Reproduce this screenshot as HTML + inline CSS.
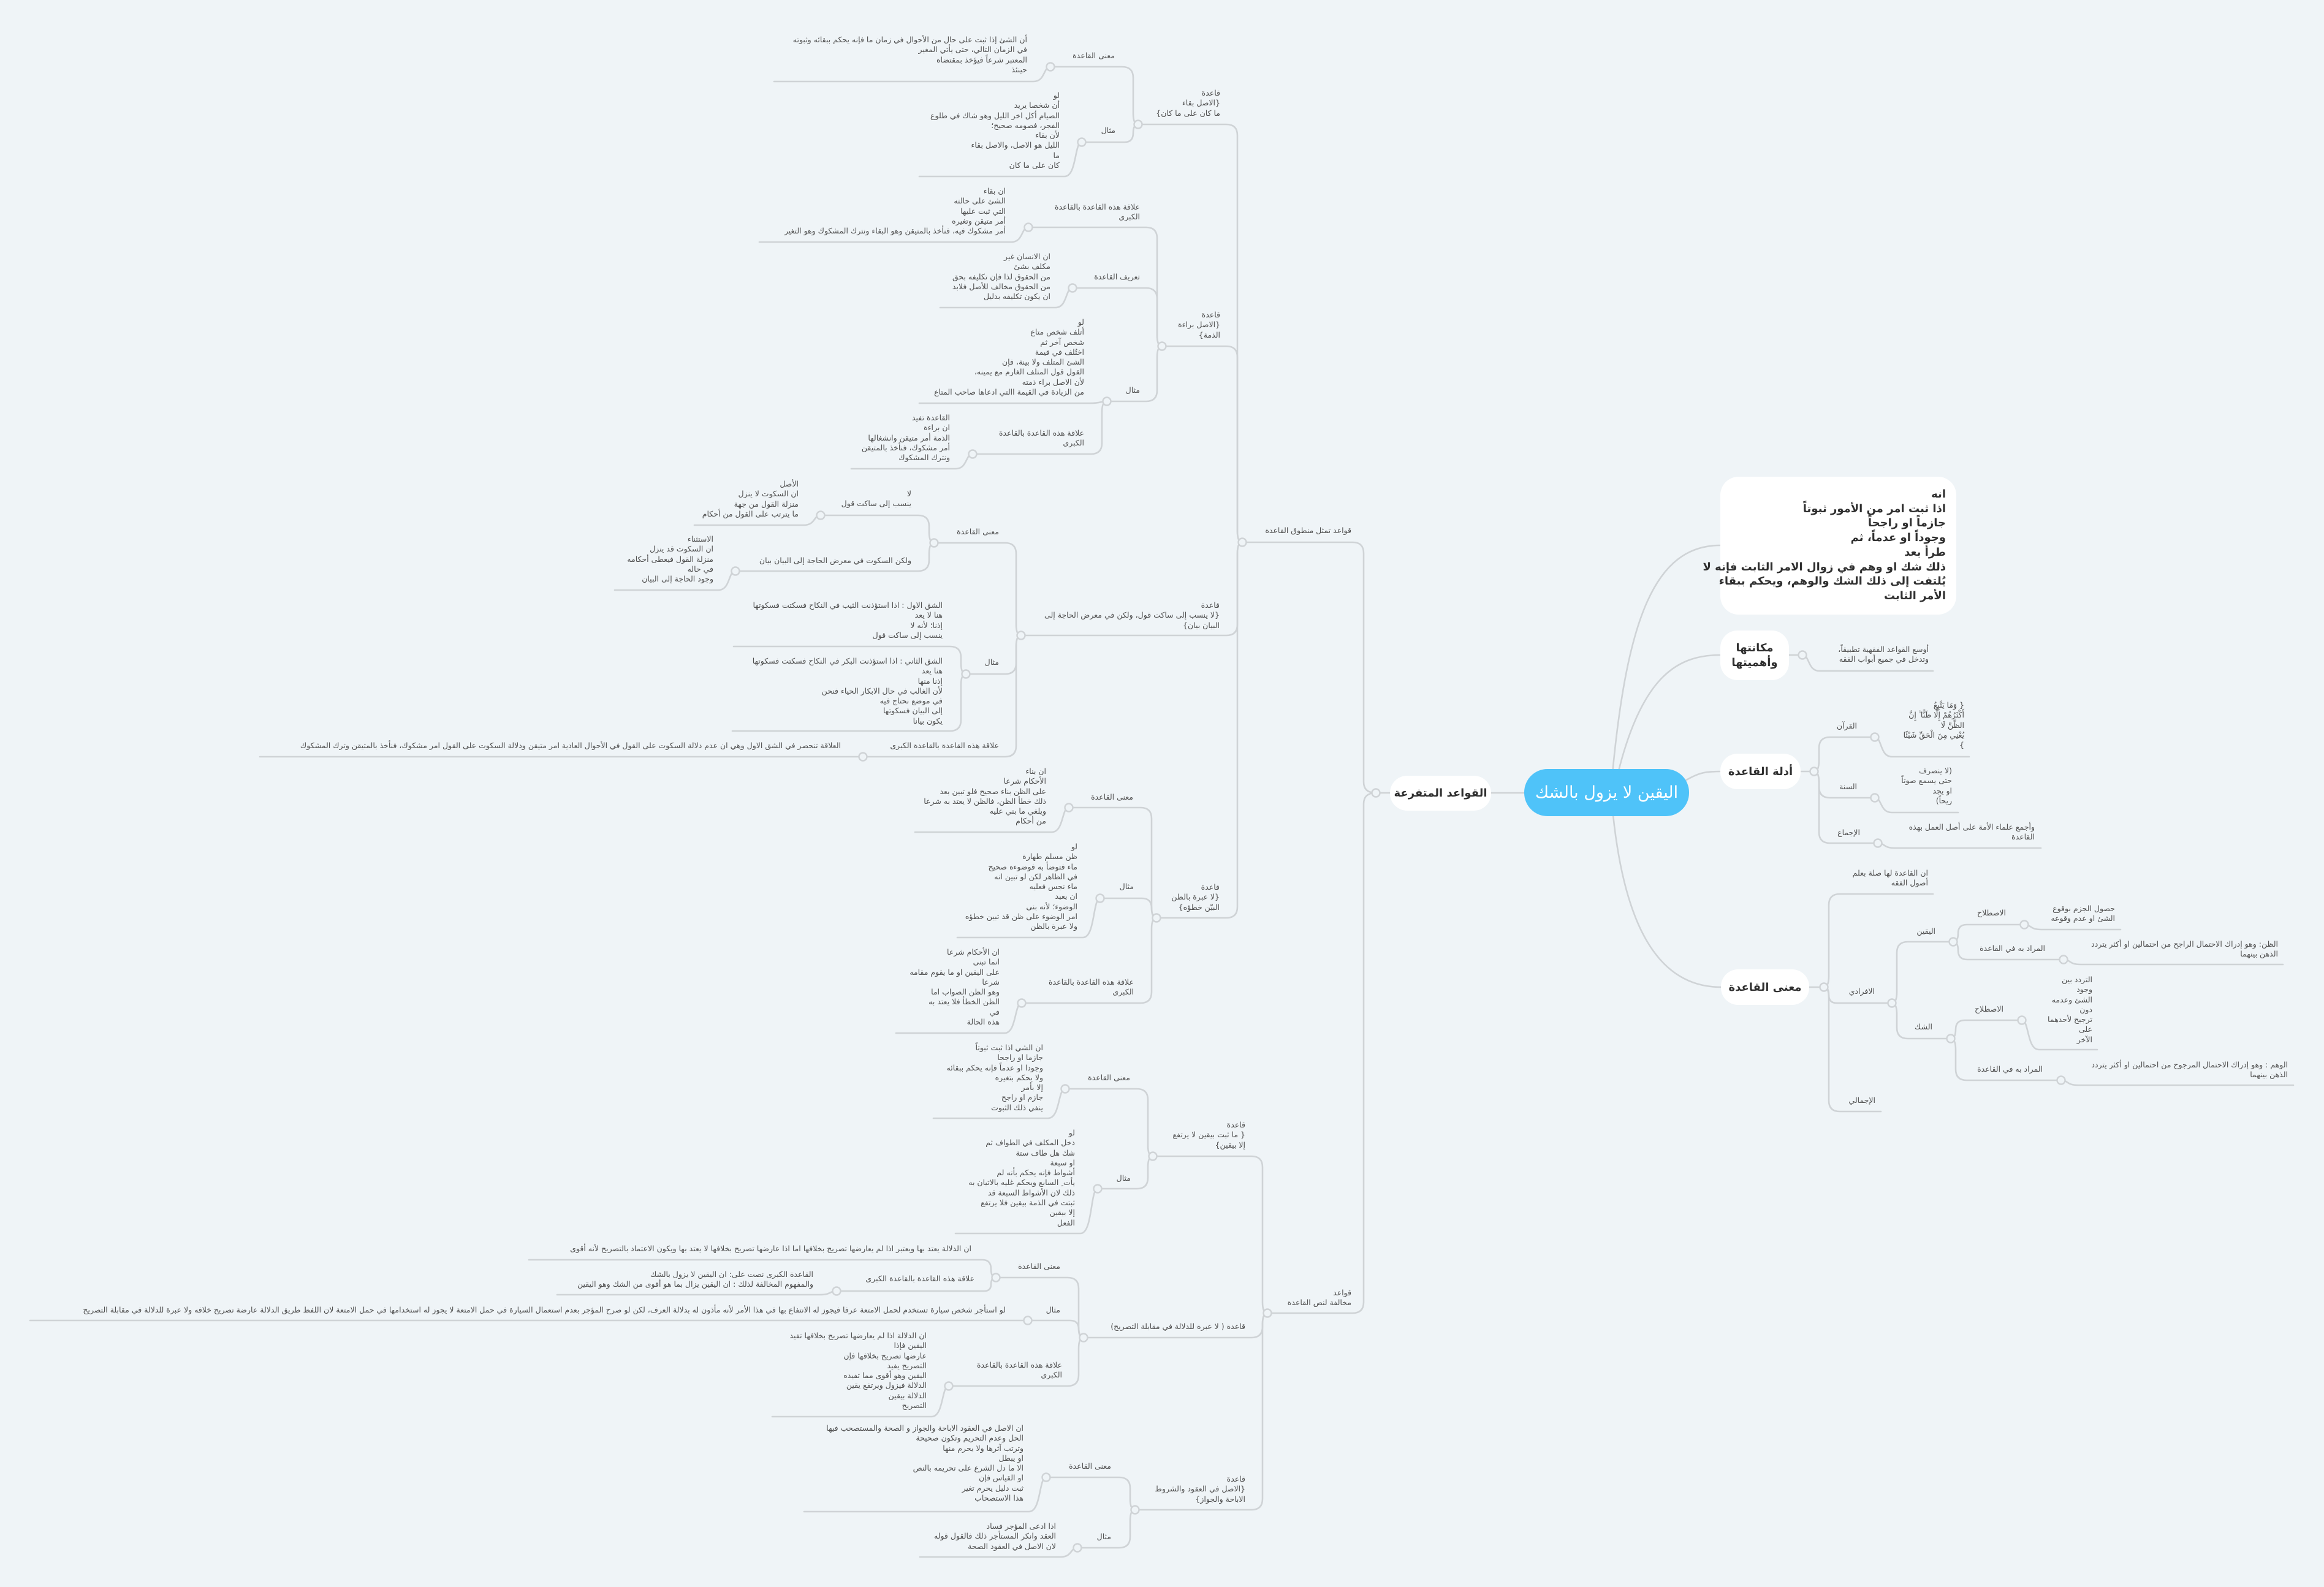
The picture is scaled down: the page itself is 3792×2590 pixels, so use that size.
<!DOCTYPE html>
<html><head><meta charset="utf-8">
<style>
html,body{margin:0;padding:0}
body{width:3792px;height:2590px;background:#eff4f7;position:relative;overflow:hidden;font-family:"DejaVu Sans","Noto Sans CJK SC",sans-serif}
.t{position:absolute;font-size:12.5px;line-height:16.3px;color:#505050;direction:rtl;text-align:right;white-space:nowrap}
.n{position:absolute;background:#fff;border-radius:28px;display:flex;align-items:center;justify-content:center;color:#2f2f2f;font-weight:bold;direction:rtl;text-align:center}
svg{position:absolute;left:0;top:0}
</style></head><body>
<svg width="3792" height="2590" viewBox="0 0 3792 2590">
<g fill="none" stroke="#cfd3d6" stroke-width="2.6" stroke-linecap="round">
<path d="M2631,1262 C2655,1010 2700,890 2807,890"/>
<path d="M2640,1262 C2680,1100 2740,1069 2807,1069"/>
<path d="M2748,1275 C2770,1262 2780,1259 2807,1259"/>
<path d="M2632,1330 C2650,1500 2700,1611 2808,1611"/>
<path d="M2487,1294 L2433,1294"/>
<path d="M2268,1294 L2252,1294"/>
<path d="M2245,1294 Q2225,1294 2225,1276 L2225,903 Q2225,885 2207,885 L2027,885"/>
<path d="M2245,1294 Q2225,1294 2225,1312 L2225,2125 Q2225,2143 2207,2143 L2068,2143"/>
<path d="M2027,885 Q2019,885 2019,867 L2019,221 Q2019,203 2001,203 L1857,203"/>
<path d="M2027,885 Q2019,885 2019,867 L2019,583 Q2019,565 2001,565 L1896,565"/>
<path d="M2027,885 Q2019,885 2019,903 L2019,1019 Q2019,1037 2001,1037 L1666,1037"/>
<path d="M2027,885 Q2019,885 2019,903 L2019,1480 Q2019,1498 2001,1498 L1887,1498"/>
<path d="M1857,203 Q1849,203 1849,185 L1849,127 Q1849,109 1831,109 L1714,109"/>
<path d="M1857,203 Q1849,203 1849,217 Q1849,232 1835,232 L1765,232"/>
<path d="M1896,565 Q1888,565 1888,547 L1888,389 Q1888,371 1870,371 L1678,371"/>
<path d="M1896,565 Q1888,565 1888,547 L1888,488 Q1888,470 1870,470 L1750,470"/>
<path d="M1896,565 Q1888,565 1888,583 L1888,637 Q1888,655 1870,655 L1806,655"/>
<path d="M1806,655 Q1798,655 1798,673 L1798,723 Q1798,741 1780,741 L1587,741"/>
<path d="M1666,1037 Q1658,1037 1658,1019 L1658,904 Q1658,886 1640,886 L1524,886"/>
<path d="M1666,1037 Q1658,1037 1658,1055 L1658,1082 Q1658,1100 1640,1100 L1576,1100"/>
<path d="M1666,1037 Q1658,1037 1658,1055 L1658,1217 Q1658,1235 1640,1235 L1408,1235"/>
<path d="M1524,886 Q1516,886 1516,868 L1516,859 Q1516,841 1498,841 L1339,841"/>
<path d="M1524,886 Q1516,886 1516,904 L1516,914 Q1516,932 1498,932 L1200,932"/>
<path d="M1576,1100 Q1568,1100 1568,1082 L1568,1073 Q1568,1055 1550,1055 L1197,1055"/>
<path d="M1576,1100 Q1568,1100 1568,1118 L1568,1175 Q1568,1193 1550,1193 L1195,1193"/>
<path d="M1887,1498 Q1879,1498 1879,1480 L1879,1336 Q1879,1318 1861,1318 L1744,1318"/>
<path d="M1887,1498 Q1879,1498 1879,1482 Q1879,1466 1863,1466 L1795,1466"/>
<path d="M1887,1498 Q1879,1498 1879,1516 L1879,1619 Q1879,1637 1861,1637 L1667,1637"/>
<path d="M2068,2143 Q2060,2143 2060,2125 L2060,1905 Q2060,1887 2042,1887 L1881,1887"/>
<path d="M2068,2143 Q2060,2143 2060,2161 L2060,2165 Q2060,2183 2042,2183 L1768,2183"/>
<path d="M2068,2143 Q2060,2143 2060,2161 L2060,2446 Q2060,2464 2042,2464 L1852,2464"/>
<path d="M1881,1887 Q1873,1887 1873,1869 L1873,1795 Q1873,1777 1855,1777 L1738,1777"/>
<path d="M1881,1887 Q1873,1887 1873,1905 L1873,1922 Q1873,1940 1855,1940 L1791,1940"/>
<path d="M1768,2183 Q1760,2183 1760,2165 L1760,2103 Q1760,2085 1742,2085 L1625,2085"/>
<path d="M1768,2183 Q1760,2183 1760,2169 Q1760,2155 1746,2155 L1677,2155"/>
<path d="M1768,2183 Q1760,2183 1760,2201 L1760,2244 Q1760,2262 1742,2262 L1548,2262"/>
<path d="M1625,2085 Q1617,2085 1617,2071 Q1617,2056 1603,2056 L863,2056"/>
<path d="M1625,2085 Q1617,2085 1617,2096 Q1617,2107 1606,2107 L1365,2107"/>
<path d="M1852,2464 Q1844,2464 1844,2446 L1844,2429 Q1844,2411 1826,2411 L1707,2411"/>
<path d="M1852,2464 Q1844,2464 1844,2482 L1844,2508 Q1844,2526 1826,2526 L1758,2526"/>
<path d="M1714,109 C1702,109 1706,133 1686,133 L1263,133"/>
<path d="M1765,232 C1753,232 1757,288 1737,288 L1500,288"/>
<path d="M1678,371 C1666,371 1670,395 1650,395 L1239,395"/>
<path d="M1750,470 C1738,470 1742,502 1722,502 L1534,502"/>
<path d="M1806,655 C1794,655 1798,658 1778,658 L1500,658"/>
<path d="M1587,741 C1575,741 1579,765 1559,765 L1389,765"/>
<path d="M1339,841 C1327,841 1331,857 1311,857 L1133,857"/>
<path d="M1200,932 C1188,932 1192,963 1172,963 L1003,963"/>
<path d="M1408,1235 L424,1235"/>
<path d="M1744,1318 C1732,1318 1736,1358 1716,1358 L1493,1358"/>
<path d="M1795,1466 C1783,1466 1787,1530 1767,1530 L1562,1530"/>
<path d="M1667,1637 C1655,1637 1659,1686 1639,1686 L1462,1686"/>
<path d="M1738,1777 C1726,1777 1730,1825 1710,1825 L1523,1825"/>
<path d="M1791,1940 C1779,1940 1783,2013 1763,2013 L1559,2013"/>
<path d="M1365,2107 C1353,2107 1357,2113 1337,2113 L909,2113"/>
<path d="M1677,2155 L49,2155"/>
<path d="M1548,2262 C1536,2262 1540,2312 1520,2312 L1260,2312"/>
<path d="M1707,2411 C1695,2411 1699,2467 1679,2467 L1312,2467"/>
<path d="M1758,2526 C1746,2526 1750,2541 1730,2541 L1501,2541"/>
<path d="M2919,1069 L2941,1069"/>
<path d="M2941,1069 C2953,1069 2949,1095 2969,1095 L3154,1095"/>
<path d="M2938,1259 L2960,1259"/>
<path d="M2960,1259 Q2968,1259 2968,1241 L2968,1221 Q2968,1203 2986,1203 L3059,1203"/>
<path d="M2960,1259 Q2968,1259 2968,1277 L2968,1284 Q2968,1302 2986,1302 L3059,1302"/>
<path d="M2960,1259 Q2968,1259 2968,1277 L2968,1358 Q2968,1376 2986,1376 L3064,1376"/>
<path d="M3059,1203 C3071,1203 3067,1235 3087,1235 L3213,1235"/>
<path d="M3059,1302 C3071,1302 3067,1326 3087,1326 L3195,1326"/>
<path d="M3064,1376 C3076,1376 3072,1384 3092,1384 L3330,1384"/>
<path d="M2952,1611 L2976,1611"/>
<path d="M2976,1611 Q2984,1611 2984,1593 L2984,1477 Q2984,1459 3002,1459 L3154,1459"/>
<path d="M2976,1611 Q2984,1611 2984,1624 Q2984,1637 2997,1637 L3087,1637"/>
<path d="M2976,1611 Q2984,1611 2984,1629 L2984,1796 Q2984,1814 3002,1814 L3069,1814"/>
<path d="M3087,1637 Q3095,1637 3095,1619 L3095,1555 Q3095,1537 3113,1537 L3187,1537"/>
<path d="M3087,1637 Q3095,1637 3095,1655 L3095,1677 Q3095,1695 3113,1695 L3183,1695"/>
<path d="M3187,1537 Q3195,1537 3195,1523 Q3195,1509 3209,1509 L3303,1509"/>
<path d="M3187,1537 Q3195,1537 3195,1551 Q3195,1566 3210,1566 L3367,1566"/>
<path d="M3183,1695 Q3191,1695 3191,1680 Q3191,1665 3206,1665 L3299,1665"/>
<path d="M3183,1695 Q3191,1695 3191,1713 L3191,1745 Q3191,1763 3209,1763 L3363,1763"/>
<path d="M3303,1509 C3315,1509 3311,1517 3331,1517 L3460,1517"/>
<path d="M3367,1566 C3379,1566 3375,1574 3395,1574 L3725,1574"/>
<path d="M3299,1665 C3311,1665 3307,1713 3327,1713 L3422,1713"/>
<path d="M3363,1763 C3375,1763 3371,1771 3391,1771 L3742,1771"/>
</g>
<g fill="#eff4f7" stroke="#cfd3d6" stroke-width="2.4">
<circle cx="2245" cy="1294" r="6.5"/><circle cx="2027" cy="885" r="6.5"/><circle cx="2068" cy="2143" r="6.5"/>
<circle cx="1857" cy="203" r="6.5"/><circle cx="1714" cy="109" r="6.5"/><circle cx="1765" cy="232" r="6.5"/>
<circle cx="1896" cy="565" r="6.5"/><circle cx="1678" cy="371" r="6.5"/><circle cx="1750" cy="470" r="6.5"/>
<circle cx="1806" cy="655" r="6.5"/><circle cx="1587" cy="741" r="6.5"/><circle cx="1666" cy="1037" r="6.5"/>
<circle cx="1524" cy="886" r="6.5"/><circle cx="1339" cy="841" r="6.5"/><circle cx="1200" cy="932" r="6.5"/>
<circle cx="1576" cy="1100" r="6.5"/><circle cx="1408" cy="1235" r="6.5"/><circle cx="1887" cy="1498" r="6.5"/>
<circle cx="1744" cy="1318" r="6.5"/><circle cx="1795" cy="1466" r="6.5"/><circle cx="1667" cy="1637" r="6.5"/>
<circle cx="1881" cy="1887" r="6.5"/><circle cx="1738" cy="1777" r="6.5"/><circle cx="1791" cy="1940" r="6.5"/>
<circle cx="1768" cy="2183" r="6.5"/><circle cx="1625" cy="2085" r="6.5"/><circle cx="1365" cy="2107" r="6.5"/>
<circle cx="1677" cy="2155" r="6.5"/><circle cx="1548" cy="2262" r="6.5"/><circle cx="1852" cy="2464" r="6.5"/>
<circle cx="1707" cy="2411" r="6.5"/><circle cx="1758" cy="2526" r="6.5"/>
<circle cx="2941" cy="1069" r="6.5"/><circle cx="2960" cy="1259" r="6.5"/><circle cx="3059" cy="1203" r="6.5"/>
<circle cx="3059" cy="1302" r="6.5"/><circle cx="3064" cy="1376" r="6.5"/><circle cx="2976" cy="1611" r="6.5"/>
<circle cx="3087" cy="1637" r="6.5"/><circle cx="3187" cy="1537" r="6.5"/><circle cx="3183" cy="1695" r="6.5"/>
<circle cx="3303" cy="1509" r="6.5"/><circle cx="3367" cy="1566" r="6.5"/><circle cx="3299" cy="1665" r="6.5"/>
<circle cx="3363" cy="1763" r="6.5"/>
</g>
</svg>

<!-- nodes -->
<div class="n" style="left:2487px;top:1255px;width:269px;height:77px;border-radius:38px;background:#4fc3f9;color:#fff;font-weight:normal;font-size:27px">اليقين لا يزول بالشك</div>
<div class="n" style="left:2268px;top:1266px;width:165px;height:57px;font-size:18px">القواعد المتفرعة</div>
<div class="n" style="left:2807px;top:778px;width:385px;height:225px;border-radius:30px;display:block;text-align:right;font-size:18px;line-height:23.7px;padding:0;">
<div style="position:absolute;right:17px;top:17px;white-space:nowrap">انه<br>اذا ثبت امر من الأمور ثبوتاً<br>جازماً او راجحاً<br>وجوداً او عدماً، ثم<br>طرأ بعد<br>ذلك شك او وهم في زوال الامر الثابت فإنه لا<br>يُلتفت إلى ذلك الشك والوهم، ويحكم ببقاء<br>الأمر الثابت</div></div>
<div class="n" style="left:2807px;top:1029px;width:112px;height:81px;font-size:18px;line-height:24px">مكانتها<br>وأهميتها</div>
<div class="n" style="left:2807px;top:1230px;width:131px;height:58px;font-size:18px">أدلة القاعدة</div>
<div class="n" style="left:2808px;top:1582px;width:144px;height:58px;font-size:18px">معنى القاعدة</div>

<!-- left labels -->
<div class="t" style="right:1587px;top:858px">قواعد تمثل منطوق القاعدة</div>
<div class="t" style="right:1587px;top:2102px">قواعد<br>مخالفة لنص القاعدة</div>

<div class="t" style="right:1801px;top:144px">قاعدة<br>{الاصل بقاء<br>ما كان على ما كان}</div>
<div class="t" style="right:1973px;top:83px">معنى القاعدة</div>
<div class="t" style="right:2116px;top:57px">أن  الشئ إذا ثبت على حال من الأحوال في زمان ما فإنه يحكم ببقائه وثبوته<br>في الزمان التالي، حتى يأتي المغير<br>المعتبر شرعاً فيؤخذ بمقتضاه<br>حينئذ</div>
<div class="t" style="right:1972px;top:205px">مثال</div>
<div class="t" style="right:2063px;top:148px">لو<br>أن شخصا يريد<br>الصيام أكل اخر الليل وهو شاك في طلوع<br>الفجر، فصومه صحيح؛<br>لأن بقاء<br>الليل هو الاصل، والاصل بقاء<br>ما<br>كان على ما كان</div>

<div class="t" style="right:1801px;top:506px">قاعدة<br>{الاصل براءة<br>الذمة}</div>
<div class="t" style="right:1932px;top:330px">علاقة هذه القاعدة بالقاعدة<br>الكبرى</div>
<div class="t" style="right:2151px;top:304px">ان بقاء<br>الشئ على حالته<br>التي ثبت عليها<br>أمر متيقن وتغيره<br>أمر مشكوك فيه، فنأخذ بالمتيقن  وهو البقاء ونترك المشكوك وهو التغير</div>
<div class="t" style="right:1932px;top:444px">تعريف القاعدة</div>
<div class="t" style="right:2078px;top:411px">ان الانسان غير<br>مكلف بشئ<br>من الحقوق لذا فإن تكليفه بحق<br>من الحقوق مخالف للأصل فلابد<br>ان يكون تكليفه بدليل</div>
<div class="t" style="right:1932px;top:629px">مثال</div>
<div class="t" style="right:2023px;top:518px">لو<br>أتلف شخص متاع<br>شخص آخر ثم<br>اختُلف في قيمة<br>الشئ المتلف ولا بينة، فإن<br>القول قول المتلف الغارم مع يمينه،<br>لأن الاصل براء ذمته<br>من الزيادة في القيمة االتي ادعاها صاحب المتاع</div>
<div class="t" style="right:2023px;top:699px">علاقة هذه القاعدة بالقاعدة<br>الكبرى</div>
<div class="t" style="right:2242px;top:674px">القاعدة تفيد<br>ان براءة<br>الذمة أمر متيقن وانشغالها<br>أمر مشكوك، فنأخذ بالمتيقن<br>ونترك المشكوك</div>

<div class="t" style="right:1802px;top:980px">قاعدة<br>{لا ينسب إلى ساكت قول، ولكن في معرض الحاجة إلى<br>البيان بيان}</div>
<div class="t" style="right:2162px;top:860px">معنى القاعدة</div>
<div class="t" style="right:2305px;top:798px">لا<br>ينسب إلى ساكت قول</div>
<div class="t" style="right:2489px;top:782px">الأصل<br>ان السكوت لا ينزل<br>منزلة القول من جهة<br>ما يترتب على القول من أحكام</div>
<div class="t" style="right:2305px;top:907px">ولكن السكوت في معرض الحاجة إلى البيان بيان</div>
<div class="t" style="right:2628px;top:872px">الاستثناء<br>ان السكوت قد ينزل<br>منزلة القول فيعطى أحكامه<br>في حاله<br>وجود الحاجة إلى البيان</div>
<div class="t" style="right:2162px;top:1073px">مثال</div>
<div class="t" style="right:2254px;top:980px">الشق الاول : اذا استؤذنت الثيب في النكاح فسكتت فسكوتها<br>هنا لا يعد<br>إذنا؛ لأنه لا<br>ينسب إلى ساكت قول</div>
<div class="t" style="right:2254px;top:1071px">الشق الثاني : اذا استؤذنت البكر في النكاح فسكتت فسكوتها<br>هنا يعد<br>إذنا منها<br>لأن الغالب في حال الابكار الحياء فنحن<br>في موضع نحتاج فيه<br>إلى البيان فسكوتها<br>يكون بيانا</div>
<div class="t" style="right:2162px;top:1209px">علاقة هذه القاعدة بالقاعدة الكبرى</div>
<div class="t" style="right:2420px;top:1209px">العلاقة تنحصر في الشق الاول وهي ان عدم دلالة السكوت على القول في الأحوال العادية امر متيقن ودلالة السكوت على القول امر مشكوك، فنأخذ بالمتيقن وترك المشكوك</div>

<div class="t" style="right:1802px;top:1440px">قاعدة<br>{لا عبرة بالظن<br>البيّن خطؤه}</div>
<div class="t" style="right:1943px;top:1293px">معنى القاعدة</div>
<div class="t" style="right:2085px;top:1251px">ان بناء<br>الأحكام شرعا<br>على الظن بناء صحيح فلو تبين بعد<br>ذلك خطأ الظن، فالظن لا يعتد به شرعا<br>ويلغي ما بني عليه<br>من أحكام</div>
<div class="t" style="right:1942px;top:1439px">مثال</div>
<div class="t" style="right:2034px;top:1374px">لو<br>ظن مسلم طهارة<br>ماء فتوضأ به فوضوءه صحيح<br>في الظاهر لكن لو تبين انه<br>ماء نجس فعليه<br>ان يعيد<br>الوضوء؛ لأنه بنى<br>امر الوضوء على ظن قد تبين خطؤه<br>ولا عبرة بالظن</div>
<div class="t" style="right:1942px;top:1595px">علاقة هذه القاعدة بالقاعدة<br>الكبرى</div>
<div class="t" style="right:2161px;top:1546px">ان الأحكام شرعا<br>انما تبنى<br>على اليقين او ما يقوم مقامه<br>شرعا<br>وهو الظن الصواب اما<br>الظن الخطأ فلا يعتد به<br>في<br>هذه الحالة</div>

<div class="t" style="right:1760px;top:1828px">قاعدة<br>{ ما ثبت بيقين لا يرتفع<br>إلا بيقين}</div>
<div class="t" style="right:1948px;top:1751px">معنى القاعدة</div>
<div class="t" style="right:2090px;top:1702px">ان الشي اذا ثبت ثبوتاً<br>جازما او راجحا<br>وجودا او عدماً فإنه يحكم ببقائه<br>ولا يحكم بتغيره<br>إلا بأمر<br>جازم او راجح<br>ينفي ذلك الثبوت</div>
<div class="t" style="right:1947px;top:1915px">مثال</div>
<div class="t" style="right:2038px;top:1841px">لو<br>دخل المكلف في الطواف ثم<br>شك هل طاف ستة<br>او سبعة<br>أشواط فإنه يحكم بأنه لم<br>يأت ِ السابع ويحكم غليه بالاتيان به<br>ذلك لان الأشواط السبعة قد<br>ثبتت في الذمة بيقين فلا يرتفع<br>إلا بيقين<br>الفعل</div>

<div class="t" style="right:1760px;top:2157px">قاعدة ( لا عبرة للدلالة  في مقابلة التصريح)</div>
<div class="t" style="right:2062px;top:2059px">معنى القاعدة</div>
<div class="t" style="right:2207px;top:2030px">ان الدلالة يعتد بها ويعتبر اذا لم يعارضها تصريح بخلافها  اما اذا عارضها تصريح بخلافها لا يعتد بها ويكون الاعتماد بالتصريح لأنه أقوى</div>
<div class="t" style="right:2202px;top:2079px">علاقة هذه القاعدة بالقاعدة الكبرى</div>
<div class="t" style="right:2465px;top:2072px">القاعدة الكبرى نصت على: ان اليقين لا يزول بالشك<br>والمفهوم المخالفة لذلك : ان اليقين يزال بما هو أقوى من الشك وهو اليقين</div>
<div class="t" style="right:2062px;top:2130px">مثال</div>
<div class="t" style="right:2151px;top:2130px">لو استأجر شخص سيارة تستخدم لحمل الامتعة عرفا فيجوز له الانتفاع بها في هذا الأمر لأنه مأذون له بدلالة العرف، لكن لو صرح المؤجر بعدم استعمال السيارة في حمل الامتعة لا يجوز له استخدامها في حمل الامتعة لان اللفظ طريق الدلالة عارضة تصريح خلافه ولا عبرة للدلالة في مقابلة التصريح</div>
<div class="t" style="right:2059px;top:2220px">علاقة هذه القاعدة بالقاعدة<br>الكبرى</div>
<div class="t" style="right:2280px;top:2172px">ان الدلالة اذا لم يعارضها تصريح بخلافها تفيد<br>اليقين فإذا<br>عارضها تصريح بخلافها فإن<br>التصريح يفيد<br>اليقين وهو أقوى مما تفيده<br>الدلالة فيزول ويرتفع يقين<br>الدلالة بيقين<br>التصريح</div>

<div class="t" style="right:1760px;top:2406px">قاعدة<br>{الاصل في العقود والشروط<br>الاباحة والجواز}</div>
<div class="t" style="right:1979px;top:2385px">معنى القاعدة</div>
<div class="t" style="right:2122px;top:2323px">ان الاصل في العقود الاباحة والجواز و الصحة والمستصحب فيها<br>الحل وعدم التحريم  وتكون صحيحة<br>وترتب آثرها ولا يحرم منها<br>او  يبطل<br>الا ما دل الشرع على تحريمه بالنص<br>او القياس فإن<br>ثبت دليل يحرم تغير<br>هذا الاستصحاب</div>
<div class="t" style="right:1979px;top:2500px">مثال</div>
<div class="t" style="right:2069px;top:2483px">اذا ادعى المؤجر فساد<br>العقد وانكر المستأجر ذلك فالقول قوله<br>لان الاصل في العقود الصحة</div>

<!-- right labels -->
<div class="t" style="right:645px;top:1052px">أوسع القواعد الفقهية تطبيقاً،<br>وتدخل في جميع أبواب الفقه</div>
<div class="t" style="right:762px;top:1177px">القرآن</div>
<div class="t" style="right:587px;top:1143px">{ وَمَا يَتَّبِعُ<br>أَكْثَرُهُمْ إِلَّا ظَنًّا ۚ إِنَّ<br>الظَّنَّ لَا<br>يُغْنِي مِنَ الْحَقِّ شَيْئًا<br>}</div>
<div class="t" style="right:762px;top:1276px">السنة</div>
<div class="t" style="right:607px;top:1250px">(لا ينصرف<br>حتى يسمع صوتاً<br>او يجد<br>ريحاً)</div>
<div class="t" style="right:757px;top:1351px">الإجماع</div>
<div class="t" style="right:472px;top:1342px">وأجمع علماء الأمة على أصل العمل بهذه<br>القاعدة</div>
<div class="t" style="right:646px;top:1417px">ان القاعدة لها صلة بعلم<br>أصول الفقه</div>
<div class="t" style="right:733px;top:1610px">الافرادي</div>
<div class="t" style="right:732px;top:1788px">الإجمالي</div>
<div class="t" style="right:634px;top:1512px">اليقين</div>
<div class="t" style="right:639px;top:1668px">الشك</div>
<div class="t" style="right:519px;top:1482px">الاصطلاح</div>
<div class="t" style="right:341px;top:1475px">حصول الجزم بوقوع<br>الشئ او عدم وقوعه</div>
<div class="t" style="right:455px;top:1540px">المراد به في القاعدة</div>
<div class="t" style="right:75px;top:1533px">الظن: وهو إدراك الاحتمال الراجح من احتمالين او أكثر يتردد<br>الذهن بينهما</div>
<div class="t" style="right:523px;top:1639px">الاصطلاح</div>
<div class="t" style="right:378px;top:1591px">التردد بين<br>وجود<br>الشئ وعدمه<br>دون<br>ترجيح لأحدهما<br>على<br>الآخر</div>
<div class="t" style="right:459px;top:1737px">المراد به في القاعدة</div>
<div class="t" style="right:59px;top:1730px">الوهم : وهو إدراك الاحتمال المرجوح من احتمالين او أكثر يتردد<br>الذهن بينهما</div>
</body></html>
